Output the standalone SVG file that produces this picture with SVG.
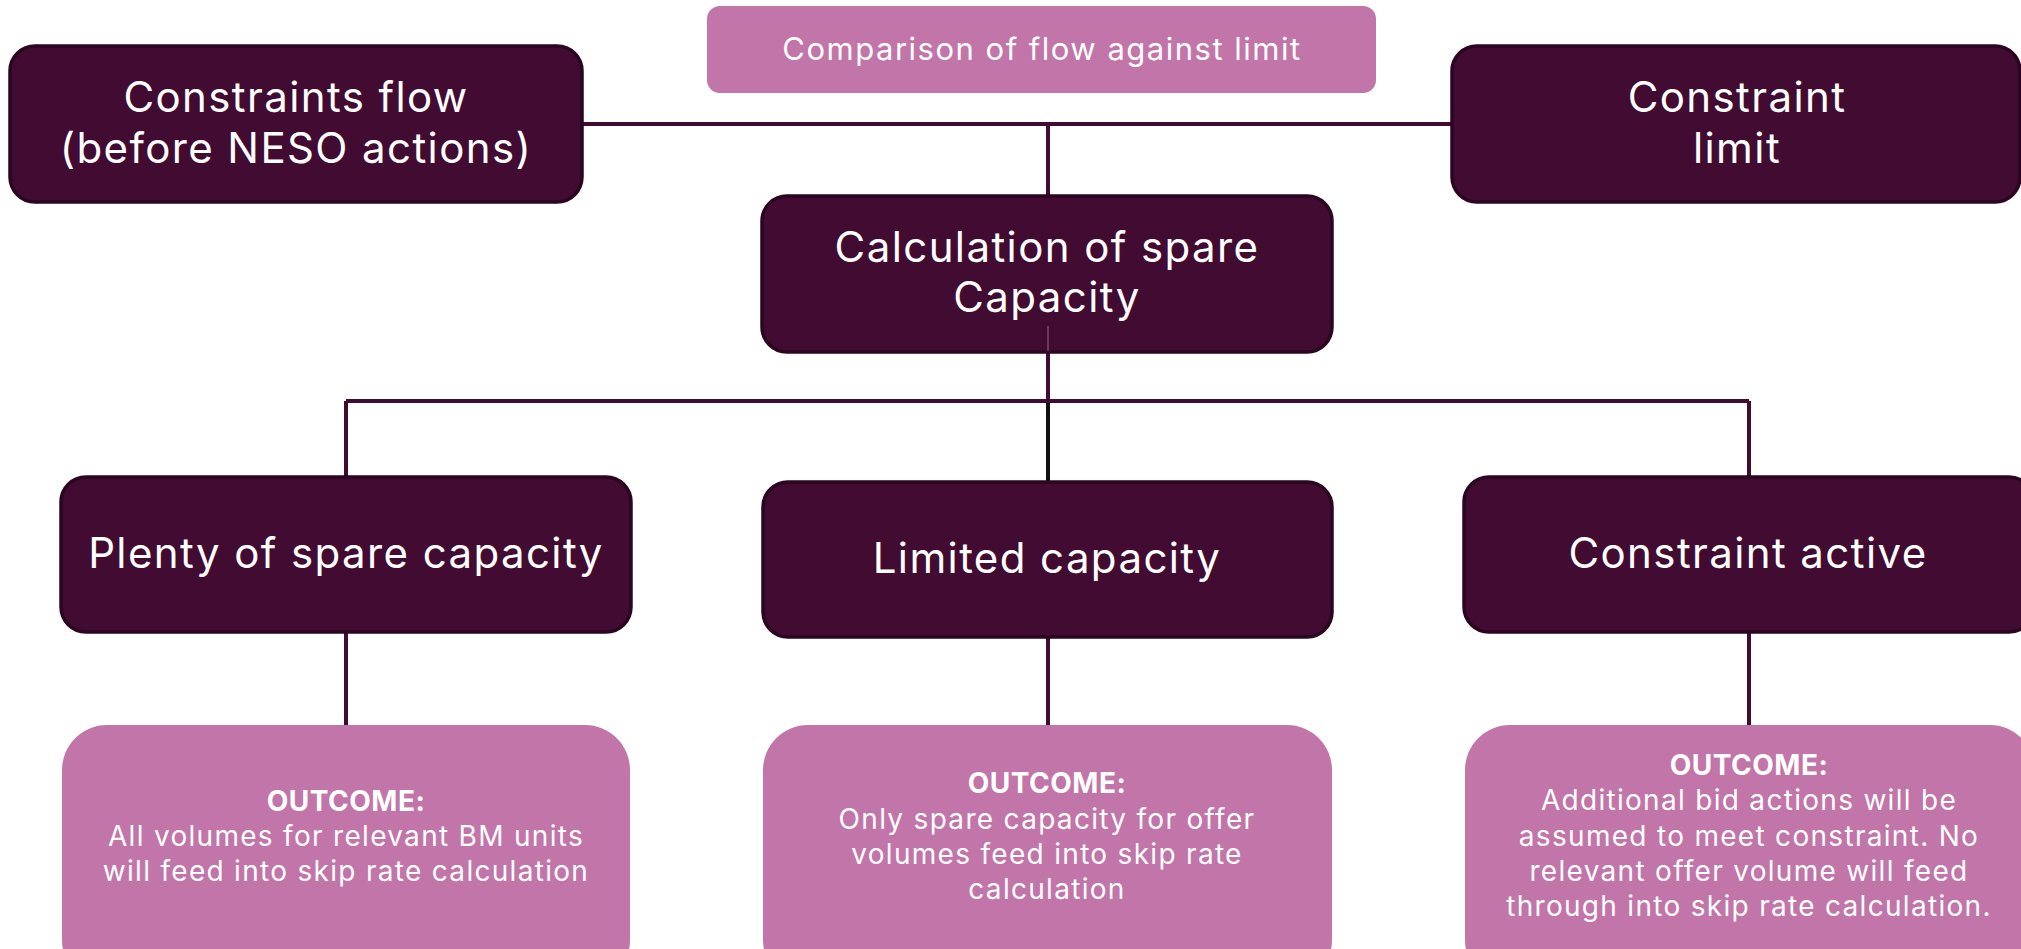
<svg xmlns="http://www.w3.org/2000/svg" width="2021" height="949" viewBox="0 0 2021 949">
  <style>
    .dark { fill: #420b31; stroke: #2a0620; stroke-width: 3.5; }
    .pink { fill: #c175a8; }
    .head { font-family: Inter, "Open Sans", "Liberation Sans", sans-serif; font-size: 42px; letter-spacing: 1.4px; fill: #ffffff; text-anchor: middle; }
    .cap { font-family: Inter, "Open Sans", "Liberation Sans", sans-serif; font-size: 31px; letter-spacing: 1.5px; fill: #ffffff; text-anchor: middle; }
    .body { font-family: Inter, "Open Sans", "Liberation Sans", sans-serif; font-size: 28px; letter-spacing: 1.3px; fill: #ffffff; text-anchor: middle; }
    .bold { font-weight: 700; letter-spacing: 0.5px; }
    .wire { stroke: #420b31; stroke-width: 4; fill: none; }
    .wire-black { stroke: #111111; stroke-width: 4; fill: none; }
    .wire-inner { stroke: #6a3a5c; stroke-width: 2; fill: none; }
  </style>

  <rect width="2021" height="949" fill="#ffffff"/>

  <!-- connectors -->
  <g id="connectors">
    <line class="wire" x1="582" y1="124" x2="1452" y2="124"/>
    <line class="wire" x1="1048" y1="124" x2="1048" y2="196"/>
    <line class="wire" x1="1048" y1="352" x2="1048" y2="401"/>
    <line class="wire" x1="346" y1="401" x2="1749" y2="401"/>
    <line class="wire" x1="346" y1="401" x2="346" y2="477"/>
    <line class="wire" x1="1749" y1="401" x2="1749" y2="477"/>
    <line class="wire-black" x1="1048" y1="403" x2="1048" y2="482"/>
    <line class="wire" x1="346" y1="632" x2="346" y2="725"/>
    <line class="wire" x1="1048" y1="637" x2="1048" y2="725"/>
    <line class="wire" x1="1749" y1="632" x2="1749" y2="725"/>
  </g>

  <!-- header -->
  <g id="comparison">
    <rect class="pink" x="707" y="6" width="669" height="87" rx="13"/>
    <text class="cap" x="1042" y="60">Comparison of flow against limit</text>
  </g>

  <g id="constraints-flow">
    <rect class="dark" x="10" y="46" width="572" height="156" rx="25"/>
    <text class="head" x="296" y="112">Constraints flow</text>
    <text class="head" x="296" y="163">(before NESO actions)</text>
  </g>

  <g id="constraint-limit">
    <rect class="dark" x="1452" y="46" width="568" height="156" rx="25"/>
    <text class="head" x="1737" y="112">Constraint</text>
    <text class="head" x="1737" y="163">limit</text>
  </g>

  <g id="spare-capacity">
    <rect class="dark" x="762" y="196" width="570" height="156" rx="25"/>
    <text class="head" x="1047" y="262">Calculation of spare</text>
    <text class="head" x="1047" y="312">Capacity</text>
    <line class="wire-inner" x1="1048" y1="326" x2="1048" y2="351"/>
  </g>

  <!-- branches -->
  <g id="plenty">
    <rect class="dark" x="61" y="477" width="570" height="155" rx="25"/>
    <text class="head" x="346" y="568">Plenty of spare capacity</text>
  </g>

  <g id="limited">
    <rect class="dark" x="763" y="482" width="569" height="155" rx="25"/>
    <text class="head" x="1047" y="573">Limited capacity</text>
  </g>

  <g id="active">
    <rect class="dark" x="1464" y="477" width="570" height="155" rx="25"/>
    <text class="head" x="1748" y="568">Constraint active</text>
  </g>

  <!-- outcomes -->
  <g id="outcome-plenty">
    <rect class="pink" x="62" y="725" width="568" height="260" rx="45"/>
    <text class="body bold" x="346" y="811">OUTCOME:</text>
    <text class="body" x="346" y="846">All volumes for relevant BM units</text>
    <text class="body" x="346" y="881">will feed into skip rate calculation</text>
  </g>

  <g id="outcome-limited">
    <rect class="pink" x="763" y="725" width="569" height="260" rx="45"/>
    <text class="body bold" x="1047" y="793">OUTCOME:</text>
    <text class="body" x="1047" y="829">Only spare capacity for offer</text>
    <text class="body" x="1047" y="864">volumes feed into skip rate</text>
    <text class="body" x="1047" y="899">calculation</text>
  </g>

  <g id="outcome-active">
    <rect class="pink" x="1465" y="725" width="570" height="260" rx="45"/>
    <text class="body bold" x="1749" y="775">OUTCOME:</text>
    <text class="body" x="1749" y="810">Additional bid actions will be</text>
    <text class="body" x="1749" y="846">assumed to meet constraint. No</text>
    <text class="body" x="1749" y="881">relevant offer volume will feed</text>
    <text class="body" x="1749" y="916">through into skip rate calculation.</text>
  </g>
</svg>
